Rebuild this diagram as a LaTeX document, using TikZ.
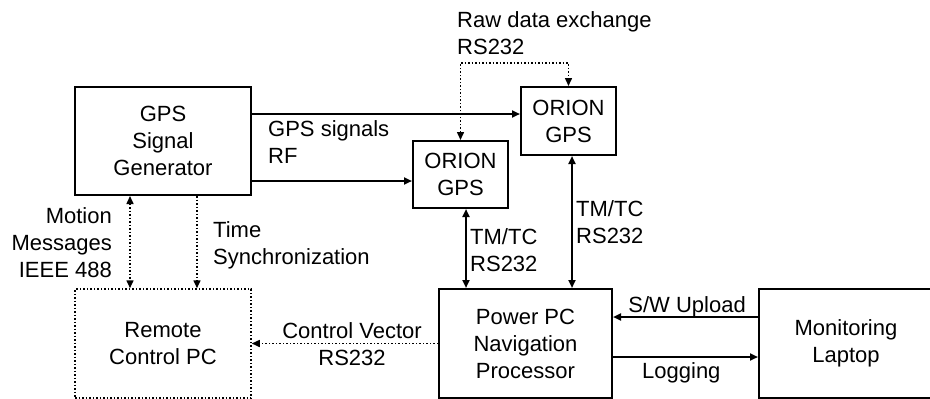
\documentclass[tikz,border=0pt]{standalone}
\usepackage{fontspec}
\setmainfont{Liberation Sans}
\usetikzlibrary{arrows.meta}

\begin{document}
\begin{tikzpicture}[x=1pt, y=-1pt,
    font=\fontsize{22}{27}\selectfont,
    box/.style={draw, line width=2pt, align=center, inner sep=0pt},
    dotbox/.style={box, line width=1.5pt, dotted},
    arr/.style={line width=2pt, -{Triangle[length=8pt, width=7pt]}},
    dblarr/.style={arr, {Triangle[length=8pt, width=7pt]}-{Triangle[length=8pt, width=7pt]}},
    dotarr/.style={arr, line width=1.5pt, dotted},
    lbl/.style={inner sep=0pt}]
    \useasboundingbox (0, 0) rectangle (930, 399);

    \node [box, minimum width=176, minimum height=108] (gen) at (163, 141) {GPS\\Signal\\Generator};
    \node [box, minimum width=95, minimum height=67] (orionA) at (460.5, 174.5) {ORION\\GPS};
    \node [box, minimum width=95, minimum height=68] (orionB) at (568.5, 121) {ORION\\GPS};
    \node [dotbox, minimum width=176, minimum height=109] (remote) at (163, 343.5) {Remote\\Control PC};
    \node [box, minimum width=173, minimum height=109] (ppc) at (525.5, 343.5) {Power PC\\Navigation\\Processor};
    \node [box, minimum width=174, minimum height=109] (laptop) at (846, 343.5) {Monitoring\\Laptop};

    % connector ends
    \coordinate (rfB) at ([yshift=7]orionB.west);
    \coordinate (rfA) at ([yshift=-6.5]orionA.west);
    \coordinate (raw) at (514, 63);
    \coordinate (tmA) at ([xshift=5.5]orionA.south);
    \coordinate (tmB) at ([xshift=3.5]orionB.south);
    \coordinate (motion) at ([xshift=-33]gen.south);
    \coordinate (sync) at ([xshift=34]gen.south);
    \coordinate (upload) at ([yshift=26.5]laptop.west);
    \coordinate (logging) at ([yshift=-13.5]laptop.west);

    \draw [arr] (gen.east |- rfB) -- (rfB);
    \draw [arr] (gen.east |- rfA) -- (rfA);
    \draw [dblarr, line width=1.5pt, dotted] (orionA.north) |- (raw) -| (orionB.north);
    \draw [dblarr] (tmA) -- (tmA |- ppc.north);
    \draw [dblarr] (tmB) -- (tmB |- ppc.north);
    \draw [dblarr, line width=1.5pt, dotted] (motion) -- (motion |- remote.north);
    \draw [dotarr] (sync) -- (sync |- remote.north);
    \draw [dotarr] (ppc.west) -- (remote.east);
    \draw [arr] (upload) -- (upload -| ppc.east);
    \draw [arr] (logging -| ppc.east) -- (logging);

    % labels (base = last line)
    \node [lbl, anchor=base west, align=left] (rawlbl) at (457, 54) {Raw data exchange\\RS232};
    \node [lbl, anchor=base west, align=left] (rflbl) at (268, 163) {GPS signals\\RF};
    \node [lbl, anchor=base east, align=right] (motionlbl) at (112, 277) {Motion\\Messages\\IEEE 488};
    \node [lbl, anchor=base west, align=left] (synclbl) at (213, 264) {Time\\Synchronization};
    \node [lbl, anchor=base, align=center] (cvlbl) at (352, 365) {Control Vector\\RS232};
    \node [lbl, anchor=base west, align=left] (tmAlbl) at (470, 271) {TM/TC\\RS232};
    \node [lbl, anchor=base west, align=left] (tmBlbl) at (576, 243) {TM/TC\\RS232};
    \node [lbl, anchor=base east] (uplbl) at (746, 312) {S/W Upload};
    \node [lbl, anchor=base west] (loglbl) at (642, 378) {Logging};
\end{tikzpicture}
\end{document}
